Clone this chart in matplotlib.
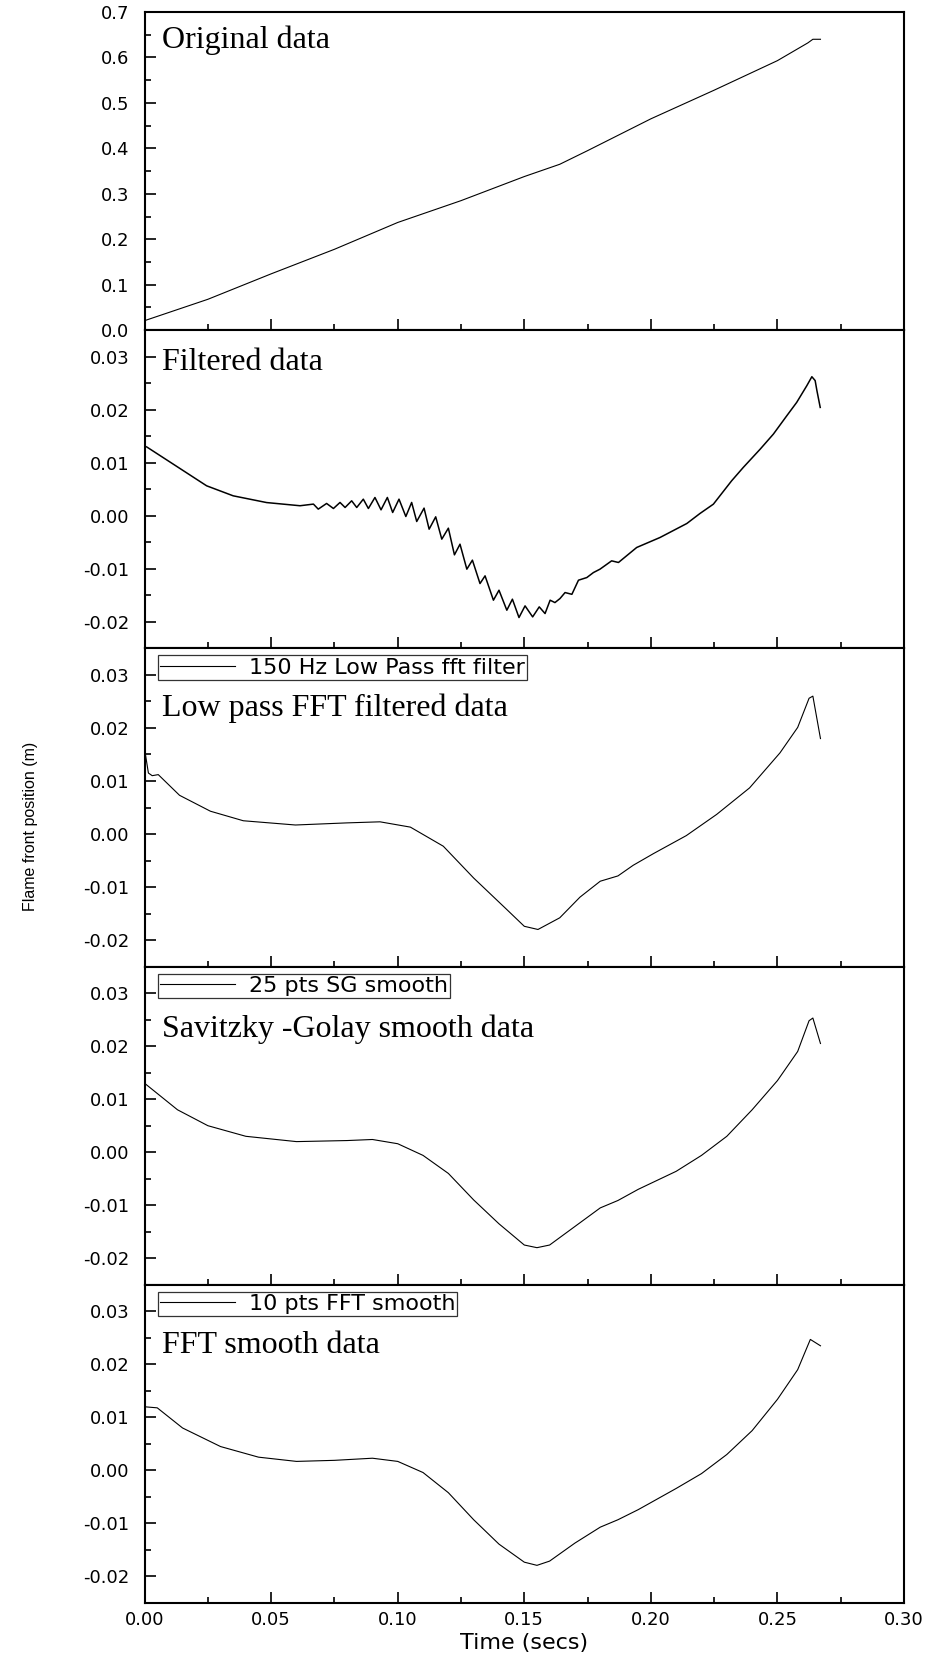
import numpy as np
import matplotlib
matplotlib.use("Agg")
import matplotlib.pyplot as plt
from matplotlib import font_manager
from matplotlib.ticker import MultipleLocator, FormatStrFormatter

plt.rcParams["axes.unicode_minus"] = False

# ---------------------------------------------------------------- data (s, m)
t_orig = [0.0, 0.025, 0.05, 0.075, 0.10, 0.125, 0.15, 0.164, 0.175, 0.20,
          0.225, 0.25, 0.262, 0.264, 0.267]
y_orig = [0.021, 0.068, 0.124, 0.178, 0.237, 0.285, 0.338, 0.365, 0.395, 0.465,
          0.528, 0.593, 0.632, 0.640, 0.640]

t_filt = [0.0008, 0.0113, 0.0245, 0.035, 0.0482, 0.0614,
          0.0667, 0.0686, 0.0719, 0.0746, 0.0772, 0.0792, 0.0818, 0.0838,
          0.0864, 0.0884, 0.0910, 0.0934, 0.0959, 0.0980, 0.1005, 0.1032,
          0.1055, 0.1075, 0.1104, 0.1124, 0.1150, 0.1174, 0.1200, 0.1224,
          0.1246, 0.1273, 0.1295, 0.1325, 0.1345, 0.1378, 0.1400, 0.1431,
          0.1453, 0.1479, 0.1503, 0.1533, 0.1559, 0.1582, 0.1602, 0.1621,
          0.1641, 0.1661, 0.1688, 0.1714, 0.1747, 0.1773, 0.1799, 0.1845,
          0.1872, 0.1944, 0.2036, 0.2142, 0.2194, 0.2247, 0.2319, 0.2365,
          0.2432, 0.2484, 0.2537, 0.2576, 0.2616, 0.2636, 0.2649, 0.2656,
          0.2669]
y_filt = [0.0130, 0.00975, 0.00566, 0.00377, 0.0025, 0.0019,
          0.00221, 0.00126, 0.00233, 0.00138, 0.00252, 0.00157, 0.00283, 0.00157,
          0.00314, 0.00138, 0.00346, 0.00113, 0.00346, 0.00063, 0.00314, -0.00013,
          0.00252, -0.00107, 0.00145, -0.00252, -0.00019, -0.0044, -0.00233, -0.00736,
          -0.00535, -0.01006, -0.00836, -0.01277, -0.01132, -0.01591, -0.01403, -0.0178,
          -0.01572, -0.01918, -0.01698, -0.01906, -0.01717, -0.01843, -0.01591, -0.01636,
          -0.01560, -0.01447, -0.0148, -0.01214, -0.01164, -0.01070, -0.01006, -0.00849,
          -0.0088, -0.00597, -0.00409, -0.00145, 0.00044, 0.0022, 0.0066, 0.00912,
          0.01258, 0.01541, 0.01887, 0.02138, 0.02453, 0.02623, 0.0255, 0.0236,
          0.02044]

t_lp = [0.0, 0.0015, 0.003, 0.0054, 0.0138, 0.026, 0.039, 0.0596, 0.080, 0.093,
        0.105, 0.118, 0.130, 0.143, 0.150, 0.1554, 0.164, 0.172, 0.180, 0.187,
        0.193, 0.201, 0.214, 0.226, 0.239, 0.251, 0.258, 0.2625, 0.264, 0.267]
y_lp = [0.016, 0.0115, 0.0110, 0.0112, 0.0073, 0.0043, 0.0025, 0.0017, 0.0021, 0.0023,
        0.0013, -0.0023, -0.0083, -0.0142, -0.0174, -0.0180, -0.0158, -0.0119, -0.0089, -0.0079,
        -0.0059, -0.0037, -0.0003, 0.0037, 0.0087, 0.0153, 0.0201, 0.0256, 0.0260, 0.0180]

t_sg = [0.0, 0.013, 0.025, 0.04, 0.06, 0.08, 0.09, 0.10, 0.11, 0.12, 0.13, 0.14,
        0.15, 0.155, 0.16, 0.17, 0.18, 0.187, 0.195, 0.21, 0.22, 0.23, 0.24, 0.25,
        0.258, 0.2625, 0.264, 0.267]
y_sg = [0.013, 0.008, 0.005, 0.003, 0.002, 0.0022, 0.0024, 0.0016, -0.0006, -0.004,
        -0.009, -0.0135, -0.0175, -0.018, -0.0175, -0.014, -0.0105, -0.0091, -0.007,
        -0.0036, -0.0006, 0.003, 0.008, 0.0135, 0.019, 0.0248, 0.0253, 0.0205]

t_fft = [0.0, 0.005, 0.015, 0.03, 0.045, 0.06, 0.075, 0.09, 0.10, 0.11, 0.12, 0.13,
         0.14, 0.15, 0.155, 0.16, 0.17, 0.18, 0.187, 0.195, 0.21, 0.22, 0.23, 0.24,
         0.25, 0.258, 0.263, 0.267]
y_fft = [0.012, 0.0118, 0.008, 0.0045, 0.0025, 0.0017, 0.0019, 0.0023, 0.0017, -0.0004,
         -0.0042, -0.0093, -0.0139, -0.0173, -0.0179, -0.0171, -0.0137, -0.0107, -0.0093,
         -0.0074, -0.0034, -0.0006, 0.003, 0.0075, 0.0134, 0.019, 0.0247, 0.0235]

panels = [
    dict(t=t_orig, y=y_orig, title="Original data", title_dy=36, legend=None, lw=0.8),
    dict(t=t_filt, y=y_filt, title="Filtered data", title_dy=40, legend=None, lw=1.1),
    dict(t=t_lp, y=y_lp, title="Low pass FFT filtered data", title_dy=68,
         legend="150 Hz Low Pass fft filter", lw=0.8),
    dict(t=t_sg, y=y_sg, title="Savitzky -Golay smooth data", title_dy=70,
         legend="25 pts SG smooth", lw=0.8),
    dict(t=t_fft, y=y_fft, title="FFT smooth data", title_dy=68,
         legend="10 pts FFT smooth", lw=0.8),
]

# ---------------------------------------------------------------- fonts
sans = "DejaVu Sans"
serif = "Liberation Serif"
try:
    font_manager.findfont("Liberation Sans Narrow", fallback_to_default=False)
    narrow = "Liberation Sans Narrow"
    narrow_size = 13.5
except ValueError:
    narrow = "Liberation Sans"
    narrow_size = 11.5

# ---------------------------------------------------------------- figure
W, H = 935, 1654
fig = plt.figure(figsize=(W / 100, H / 100), dpi=100)
gs = fig.add_gridspec(5, 1, left=144.6 / W, right=904 / W,
                      bottom=1 - 1603 / H, top=1 - 12 / H, hspace=0)
PH = (1603 - 12) / 5.0   # panel height, px

for i, p in enumerate(panels):
    ax = fig.add_subplot(gs[i])
    ax.plot(p["t"], p["y"], color="black", lw=p["lw"], label=p["legend"])
    ax.set_xlim(0, 0.30)
    if i == 0:
        ax.set_ylim(0, 0.7)
        ax.yaxis.set_major_locator(MultipleLocator(0.1))
        ax.yaxis.set_minor_locator(MultipleLocator(0.05))
        ax.yaxis.set_major_formatter(FormatStrFormatter("%.1f"))
    else:
        ax.set_ylim(-0.025, 0.035)
        ax.yaxis.set_major_locator(MultipleLocator(0.01))
        ax.yaxis.set_minor_locator(MultipleLocator(0.005))
        ax.yaxis.set_major_formatter(FormatStrFormatter("%.2f"))
    ax.xaxis.set_major_locator(MultipleLocator(0.05))
    ax.xaxis.set_minor_locator(MultipleLocator(0.025))
    ax.xaxis.set_major_formatter(FormatStrFormatter("%.2f"))
    ax.tick_params(which="both", direction="in", top=False, right=False, width=1.2)
    ax.tick_params(which="major", length=8)
    ax.tick_params(which="minor", length=4)
    ax.tick_params(axis="y", pad=11, labelsize=13)
    ax.tick_params(axis="x", pad=6, labelsize=13)
    for lab in ax.get_xticklabels() + ax.get_yticklabels():
        lab.set_fontfamily(sans)
    if i < len(panels) - 1:
        ax.tick_params(axis="x", labelbottom=False)
    for s in ax.spines.values():
        s.set_linewidth(1.5)

    ax.text(17 / 760, 1 - p["title_dy"] / PH, p["title"], transform=ax.transAxes,
            family=serif, fontsize=23, ha="left", va="baseline")

    if p["legend"]:
        leg = ax.legend(loc="upper left", bbox_to_anchor=(13 / 760, 1 - 7 / PH),
                        borderaxespad=0, frameon=True, fancybox=False,
                        handlelength=3.4, handletextpad=0.6, borderpad=0.1,
                        prop=dict(family=sans, size=16))
        fr = leg.get_frame()
        fr.set_edgecolor("black")
        fr.set_linewidth(0.9)
        for ln in leg.get_lines():
            ln.set_linewidth(0.8)

    if i == len(panels) - 1:
        ax.set_xlabel("Time (secs)", family=sans, fontsize=16, labelpad=3)

fig.text(30 / W, 1 - 826 / H, "Flame front position (m)", rotation=90,
         family=narrow, fontsize=narrow_size, ha="center", va="center")

fig.savefig("out.png", dpi=100)
